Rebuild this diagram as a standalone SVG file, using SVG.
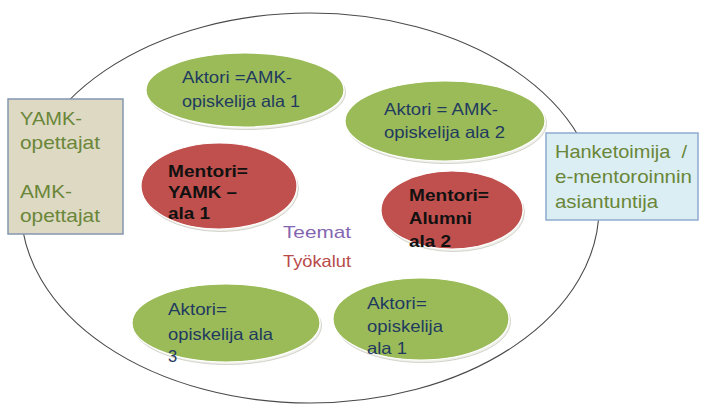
<svg xmlns="http://www.w3.org/2000/svg" width="702" height="404" viewBox="0 0 702 404">
<style>
.bg{fill:#ffffff}
.outer{fill:none;stroke:#4a4a4a;stroke-width:1.1}
.rim{fill:#f1f1ec;stroke:#c9c9c0;stroke-width:0.8}
.grn{fill:#9bbb59;stroke:#ffffff;stroke-width:1.2}
.red{fill:#c0504d;stroke:#ffffff;stroke-width:1.2}
.box1{fill:#ddd9c3;stroke:#8496b0;stroke-width:1.5}
.box2{fill:#dbeef4;stroke:#8eaad0;stroke-width:1.5}
text{font-family:"Liberation Sans",Arial,sans-serif}
.bt{font-size:18.5px;fill:#6a8638}
.gt{font-size:16.5px;fill:#1f3a5f}
.rt{font-size:16.5px;font-weight:bold;fill:#111111}
</style>
<rect class="bg" x="0" y="0" width="702" height="404"/>
<g id="frame">
<ellipse class="outer" cx="310" cy="208" rx="289" ry="195"/>
</g>
<g id="connectors"></g>
<g id="yamk-box">
<rect class="box1" x="8" y="99" width="115" height="135"/>
<text class="bt" x="20" y="125" textLength="62" lengthAdjust="spacingAndGlyphs">YAMK-</text>
<text class="bt" x="20" y="149" textLength="80" lengthAdjust="spacingAndGlyphs">opettajat</text>
<text class="bt" x="20" y="198" textLength="52" lengthAdjust="spacingAndGlyphs">AMK-</text>
<text class="bt" x="20" y="222" textLength="80" lengthAdjust="spacingAndGlyphs">opettajat</text>
</g>
<g id="hanke-box">
<rect class="box2" x="546" y="133" width="152" height="87"/>
<text class="bt" x="555" y="158" textLength="132" lengthAdjust="spacingAndGlyphs" xml:space="preserve">Hanketoimija  /</text>
<text class="bt" x="555" y="183" textLength="137" lengthAdjust="spacingAndGlyphs">e-mentoroinnin</text>
<text class="bt" x="555" y="208" textLength="103" lengthAdjust="spacingAndGlyphs">asiantuntija</text>
</g>
<g id="aktori-amk-1">
<ellipse class="rim" cx="246.5" cy="92.5" rx="99" ry="37"/>
<ellipse class="grn" cx="245" cy="90" rx="99" ry="37"/>
<text class="gt" x="182" y="83" textLength="110" lengthAdjust="spacingAndGlyphs">Aktori =AMK-</text>
<text class="gt" x="182" y="107" textLength="118" lengthAdjust="spacingAndGlyphs">opiskelija ala 1</text>
</g>
<g id="aktori-amk-2">
<ellipse class="rim" cx="446.5" cy="123.5" rx="100" ry="40"/>
<ellipse class="grn" cx="445" cy="121" rx="100" ry="40"/>
<text class="gt" x="384" y="115" textLength="114" lengthAdjust="spacingAndGlyphs">Aktori = AMK-</text>
<text class="gt" x="384" y="138" textLength="121" lengthAdjust="spacingAndGlyphs">opiskelija ala 2</text>
</g>
<g id="mentori-yamk">
<ellipse class="rim" cx="220.5" cy="188.5" rx="78" ry="43"/>
<ellipse class="red" cx="219" cy="186" rx="78" ry="43"/>
<text class="rt" x="168" y="177" textLength="80" lengthAdjust="spacingAndGlyphs">Mentori=</text>
<text class="rt" x="168" y="198" textLength="69" lengthAdjust="spacingAndGlyphs">YAMK –</text>
<text class="rt" x="168" y="219" textLength="42" lengthAdjust="spacingAndGlyphs">ala 1</text>
</g>
<g id="mentori-alumni">
<ellipse class="rim" cx="453.5" cy="212.5" rx="71" ry="39"/>
<ellipse class="red" cx="452" cy="210" rx="71" ry="39"/>
<text class="rt" x="409" y="201" textLength="80" lengthAdjust="spacingAndGlyphs">Mentori=</text>
<text class="rt" x="409" y="224" textLength="63" lengthAdjust="spacingAndGlyphs">Alumni</text>
<text class="rt" x="409" y="247" textLength="42" lengthAdjust="spacingAndGlyphs">ala 2</text>
</g>
<g id="teemat">
<text x="283" y="238" font-size="17" fill="#8466b0" textLength="68" lengthAdjust="spacingAndGlyphs">Teemat</text>
</g>
<g id="tyokalut">
<text x="283" y="267" font-size="16.5" fill="#b84a48" textLength="68" lengthAdjust="spacingAndGlyphs">Työkalut</text>
</g>
<g id="aktori-3">
<ellipse class="rim" cx="227.5" cy="325.5" rx="94" ry="39"/>
<ellipse class="grn" cx="226" cy="323" rx="94" ry="39"/>
<text class="gt" x="168" y="315" textLength="59" lengthAdjust="spacingAndGlyphs">Aktori=</text>
<text class="gt" x="168" y="340" textLength="105" lengthAdjust="spacingAndGlyphs">opiskelija ala</text>
<text class="gt" x="168" y="362">3</text>
</g>
<g id="aktori-1">
<ellipse class="rim" cx="422.5" cy="321.5" rx="88" ry="41"/>
<ellipse class="grn" cx="421" cy="319" rx="88" ry="41"/>
<text class="gt" x="367" y="309" textLength="60" lengthAdjust="spacingAndGlyphs">Aktori=</text>
<text class="gt" x="367" y="332" textLength="76" lengthAdjust="spacingAndGlyphs">opiskelija</text>
<text class="gt" x="367" y="354" textLength="40" lengthAdjust="spacingAndGlyphs">ala 1</text>
</g>
</svg>
